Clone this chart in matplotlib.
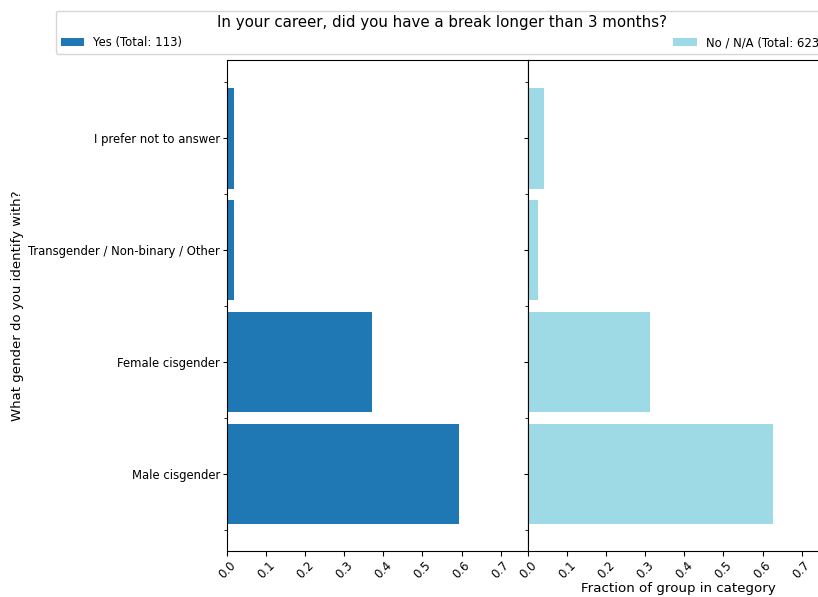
import numpy as np
import matplotlib.pyplot as plt
from matplotlib.ticker import MultipleLocator

categories = ["Male cisgender", "Female cisgender",
              "Transgender / Non-binary / Other", "I prefer not to answer"]
yes_frac = [0.593, 0.372, 0.018, 0.018]
no_frac = [0.626, 0.311, 0.026, 0.041]
yes_label = "Yes (Total: 113)"
no_label = "No / N/A (Total: 623)"
title = "In your career, did you have a break longer than 3 months?"

fig = plt.figure(figsize=(8.18, 5.97), dpi=100)
ax1 = fig.add_axes([0.2775, 0.077, 0.368, 0.8225])
ax2 = fig.add_axes([0.6455, 0.077, 0.368, 0.8225], sharey=ax1)

y = np.arange(len(categories))
h1 = ax1.barh(y, yes_frac, height=0.9, color="#1f77b4", label=yes_label)
h2 = ax2.barh(y, no_frac, height=0.9, color="#9edae5", label=no_label)

for ax in (ax1, ax2):
    ax.set_xlim(0, 0.77)
    ax.set_ylim(-0.69, 3.7)
    ax.xaxis.set_major_locator(MultipleLocator(0.1))
    ax.yaxis.set_minor_locator(MultipleLocator(1, offset=0.5))
    ax.tick_params(axis="x", labelrotation=45, labelsize=8.4, pad=2)
    ax.tick_params(axis="y", which="major", length=3, pad=2)
    ax.tick_params(axis="y", which="minor", length=2)
    for lab in ax.get_xticklabels():
        lab.set_ha("center")

ax1.set_yticks(y)
ax1.set_yticklabels(categories, fontsize=8.4)
ax2.tick_params(axis="y", labelleft=False)
ax1.set_ylabel("What gender do you identify with?", fontsize=9.5)
ax1.yaxis.set_label_coords(-0.674, 0.5)
ax2.set_xlabel("Fraction of group in category", fontsize=9.6)
ax2.xaxis.set_label_coords(0.5, -0.063)

fig.legend([h1, h2], [yes_label, no_label], ncol=2, mode="expand",
           loc="lower left", bbox_to_anchor=(0.0685, 0.91, 0.944, 0.068),
           title=title, title_fontsize=10.8, fontsize=8.4, borderaxespad=0,
           handlelength=2.0, handleheight=0.7, handletextpad=0.8)

fig.savefig("out.png", dpi=100)
